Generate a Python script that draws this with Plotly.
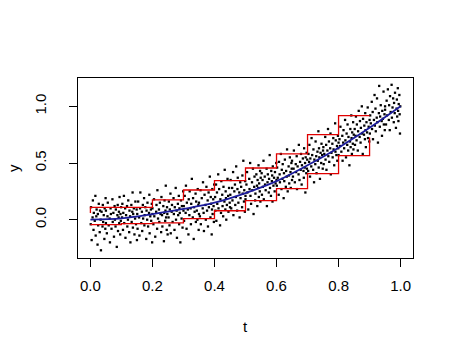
import plotly.graph_objects as go

scatter_t = [
    0.001, 0.002, 0.004, 0.007, 0.008, 0.010, 0.011, 0.014, 0.016, 0.017,
    0.019, 0.020, 0.023, 0.024, 0.025, 0.027, 0.030, 0.031, 0.033, 0.034,
    0.036, 0.039, 0.040, 0.041, 0.043, 0.045, 0.046, 0.048, 0.049, 0.050,
    0.050, 0.053, 0.055, 0.056, 0.059, 0.062, 0.063, 0.065, 0.066, 0.068,
    0.071, 0.072, 0.074, 0.076, 0.078, 0.079, 0.081, 0.082, 0.085, 0.087,
    0.088, 0.089, 0.091, 0.092, 0.093, 0.094, 0.096, 0.097, 0.098, 0.099,
    0.102, 0.103, 0.105, 0.106, 0.108, 0.109, 0.112, 0.113, 0.115, 0.118,
    0.119, 0.121, 0.122, 0.125, 0.126, 0.128, 0.129, 0.132, 0.133, 0.135,
    0.136, 0.137, 0.138, 0.140, 0.142, 0.144, 0.145, 0.147, 0.149, 0.150,
    0.151, 0.152, 0.154, 0.157, 0.158, 0.160, 0.161, 0.164, 0.166, 0.167,
    0.169, 0.170, 0.173, 0.174, 0.175, 0.177, 0.180, 0.181, 0.183, 0.184,
    0.186, 0.189, 0.190, 0.191, 0.193, 0.195, 0.196, 0.198, 0.199, 0.200,
    0.200, 0.203, 0.205, 0.206, 0.209, 0.212, 0.213, 0.215, 0.216, 0.218,
    0.221, 0.222, 0.224, 0.226, 0.228, 0.229, 0.231, 0.232, 0.235, 0.237,
    0.238, 0.239, 0.241, 0.242, 0.243, 0.244, 0.246, 0.247, 0.248, 0.249,
    0.252, 0.253, 0.255, 0.256, 0.258, 0.259, 0.262, 0.263, 0.265, 0.268,
    0.269, 0.271, 0.272, 0.275, 0.276, 0.278, 0.279, 0.282, 0.283, 0.285,
    0.286, 0.287, 0.288, 0.290, 0.292, 0.294, 0.295, 0.297, 0.299, 0.300,
    0.301, 0.302, 0.304, 0.307, 0.308, 0.310, 0.311, 0.314, 0.316, 0.317,
    0.319, 0.320, 0.323, 0.324, 0.325, 0.327, 0.330, 0.331, 0.333, 0.334,
    0.336, 0.339, 0.340, 0.341, 0.343, 0.345, 0.346, 0.348, 0.349, 0.350,
    0.350, 0.353, 0.355, 0.356, 0.359, 0.362, 0.363, 0.365, 0.366, 0.368,
    0.371, 0.372, 0.374, 0.376, 0.378, 0.379, 0.381, 0.382, 0.385, 0.387,
    0.388, 0.389, 0.391, 0.392, 0.393, 0.394, 0.396, 0.397, 0.398, 0.399,
    0.402, 0.403, 0.405, 0.406, 0.408, 0.409, 0.412, 0.413, 0.415, 0.418,
    0.419, 0.421, 0.422, 0.425, 0.426, 0.428, 0.429, 0.432, 0.433, 0.435,
    0.436, 0.437, 0.438, 0.440, 0.442, 0.444, 0.445, 0.447, 0.449, 0.450,
    0.451, 0.452, 0.454, 0.457, 0.458, 0.460, 0.461, 0.464, 0.466, 0.467,
    0.469, 0.470, 0.473, 0.474, 0.475, 0.477, 0.480, 0.481, 0.483, 0.484,
    0.486, 0.489, 0.490, 0.491, 0.493, 0.495, 0.496, 0.498, 0.499, 0.500,
    0.500, 0.503, 0.505, 0.506, 0.509, 0.512, 0.513, 0.515, 0.516, 0.518,
    0.521, 0.522, 0.524, 0.526, 0.528, 0.529, 0.531, 0.532, 0.535, 0.537,
    0.538, 0.539, 0.541, 0.542, 0.543, 0.544, 0.546, 0.547, 0.548, 0.549,
    0.552, 0.553, 0.555, 0.556, 0.558, 0.559, 0.562, 0.563, 0.565, 0.568,
    0.569, 0.571, 0.572, 0.575, 0.576, 0.578, 0.579, 0.582, 0.583, 0.585,
    0.586, 0.587, 0.588, 0.590, 0.592, 0.594, 0.595, 0.597, 0.599, 0.600,
    0.601, 0.602, 0.604, 0.607, 0.608, 0.610, 0.611, 0.614, 0.616, 0.617,
    0.619, 0.620, 0.623, 0.624, 0.625, 0.627, 0.630, 0.631, 0.633, 0.634,
    0.636, 0.639, 0.640, 0.641, 0.643, 0.645, 0.646, 0.648, 0.649, 0.650,
    0.650, 0.653, 0.655, 0.656, 0.659, 0.662, 0.663, 0.665, 0.666, 0.668,
    0.671, 0.672, 0.674, 0.676, 0.678, 0.679, 0.681, 0.682, 0.685, 0.687,
    0.688, 0.689, 0.691, 0.692, 0.693, 0.694, 0.696, 0.697, 0.698, 0.699,
    0.702, 0.703, 0.705, 0.706, 0.708, 0.709, 0.712, 0.713, 0.715, 0.718,
    0.719, 0.721, 0.722, 0.725, 0.726, 0.728, 0.729, 0.732, 0.733, 0.735,
    0.736, 0.737, 0.738, 0.740, 0.742, 0.744, 0.745, 0.747, 0.749, 0.750,
    0.751, 0.752, 0.754, 0.757, 0.758, 0.760, 0.761, 0.764, 0.766, 0.767,
    0.769, 0.770, 0.773, 0.774, 0.775, 0.777, 0.780, 0.781, 0.783, 0.784,
    0.786, 0.789, 0.790, 0.791, 0.793, 0.795, 0.796, 0.798, 0.799, 0.800,
    0.800, 0.803, 0.805, 0.806, 0.809, 0.812, 0.813, 0.815, 0.816, 0.818,
    0.821, 0.822, 0.824, 0.826, 0.828, 0.829, 0.831, 0.832, 0.835, 0.837,
    0.838, 0.839, 0.841, 0.842, 0.843, 0.844, 0.846, 0.847, 0.848, 0.849,
    0.852, 0.853, 0.855, 0.856, 0.858, 0.859, 0.862, 0.863, 0.865, 0.868,
    0.869, 0.871, 0.872, 0.875, 0.876, 0.878, 0.879, 0.882, 0.883, 0.885,
    0.886, 0.887, 0.888, 0.890, 0.892, 0.894, 0.895, 0.897, 0.899, 0.900,
    0.901, 0.902, 0.904, 0.907, 0.908, 0.910, 0.911, 0.914, 0.916, 0.917,
    0.919, 0.920, 0.923, 0.924, 0.925, 0.927, 0.930, 0.931, 0.933, 0.934,
    0.936, 0.939, 0.940, 0.941, 0.943, 0.945, 0.946, 0.948, 0.949, 0.950,
    0.950, 0.953, 0.955, 0.956, 0.959, 0.962, 0.963, 0.965, 0.966, 0.968,
    0.971, 0.972, 0.974, 0.976, 0.978, 0.979, 0.981, 0.982, 0.985, 0.987,
    0.988, 0.989, 0.991, 0.992, 0.993, 0.994, 0.996, 0.997, 0.998, 0.999,
]
scatter_y = [
    -0.04, 0.11, -0.18, 0.02, 0.17, -0.09, 0.06, -0.01, 0.21, -0.14,
    0.03, 0.09, -0.22, 0.05, -0.05, 0.14, -0.11, 0.08, 0.00, -0.27,
    0.07, -0.06, 0.13, -0.02, 0.04, -0.17, 0.10, -0.08, 0.19, -0.03,
    0.08, -0.12, 0.03, 0.15, -0.05, 0.01, -0.20, 0.10, 0.05, -0.08,
    0.18, -0.02, 0.06, -0.15, 0.12, 0.00, -0.06, 0.09, -0.24, 0.04,
    0.13, -0.10, 0.02, 0.07, -0.03, 0.20, -0.13, 0.05, -0.01, 0.11,
    0.02, 0.14, -0.09, 0.06, 0.21, -0.03, 0.10, -0.16, 0.04, 0.12,
    -0.06, 0.00, 0.17, -0.11, 0.08, 0.03, -0.20, 0.13, -0.02, 0.07,
    0.24, -0.07, 0.05, 0.10, -0.13, 0.01, 0.16, -0.04, 0.09, -0.18,
    0.05, -0.08, 0.16, 0.02, -0.14, 0.10, 0.24, -0.03, 0.07, -0.10,
    0.13, 0.01, 0.19, -0.05, 0.04, 0.11, -0.17, 0.08, 0.00, 0.15,
    -0.06, 0.06, 0.22, -0.12, 0.03, 0.09, -0.01, 0.14, -0.20, 0.05,
    0.10, -0.04, 0.18, 0.03, -0.15, 0.07, 0.13, -0.08, 0.26, 0.01,
    0.09, -0.02, 0.15, 0.05, -0.11, 0.20, 0.04, -0.06, 0.12, -0.19,
    0.06, 0.17, -0.01, 0.08, 0.30, 0.02, -0.09, 0.11, 0.05, -0.13,
    0.02, 0.16, -0.05, 0.09, 0.23, -0.12, 0.07, 0.13, -0.02, 0.19,
    0.05, -0.09, 0.11, 0.28, 0.00, 0.08, -0.16, 0.14, 0.04, 0.21,
    -0.04, 0.10, 0.06, -0.20, 0.17, 0.01, 0.12, -0.07, 0.25, 0.08,
    0.12, -0.01, 0.21, 0.06, 0.30, -0.08, 0.15, 0.09, -0.13, 0.18,
    0.04, 0.25, 0.10, -0.04, 0.14, 0.36, 0.02, 0.19, -0.17, 0.11,
    0.07, 0.23, -0.02, 0.16, 0.08, 0.00, 0.27, 0.13, -0.09, 0.05,
    0.15, 0.03, 0.26, -0.04, 0.19, 0.10, 0.33, 0.06, -0.10, 0.22,
    0.13, 0.00, 0.29, 0.08, 0.17, -0.06, 0.24, 0.11, 0.38, 0.02,
    0.20, 0.14, -0.13, 0.09, 0.27, 0.05, 0.18, 0.12, -0.02, 0.31,
    0.20, 0.08, 0.31, -0.01, 0.24, 0.14, 0.40, 0.10, 0.27, -0.05,
    0.18, 0.06, 0.34, 0.22, 0.12, 0.03, 0.29, 0.16, 0.44, 0.09,
    0.25, 0.19, 0.00, 0.13, 0.36, 0.21, 0.07, 0.28, 0.15, 0.11,
    0.22, 0.35, 0.10, 0.28, 0.17, 0.42, 0.04, 0.25, 0.31, 0.13,
    0.20, 0.47, 0.08, 0.27, 0.37, 0.15, 0.24, 0.02, 0.33, 0.19,
    0.29, 0.11, 0.39, 0.23, 0.52, 0.16, 0.26, 0.07, 0.34, 0.21,
    0.18, 0.31, 0.42, 0.24, 0.09, 0.36, 0.27, 0.50, 0.21, 0.14,
    0.33, 0.26, 0.45, 0.05, 0.29, 0.38, 0.17, 0.23, 0.40, 0.30,
    0.12, 0.35, 0.28, 0.48, 0.20, 0.32, 0.25, 0.43, 0.16, 0.37,
    0.41, 0.22, 0.35, 0.29, 0.52, 0.18, 0.38, 0.31, 0.26, 0.45,
    0.12, 0.33, 0.40, 0.24, 0.36, 0.57, 0.28, 0.21, 0.43, 0.34,
    0.39, 0.16, 0.47, 0.30, 0.37, 0.25, 0.42, 0.32, 0.50, 0.35,
    0.30, 0.46, 0.37, 0.22, 0.51, 0.40, 0.33, 0.58, 0.27, 0.44,
    0.36, 0.49, 0.19, 0.41, 0.34, 0.53, 0.29, 0.43, 0.38, 0.62,
    0.25, 0.47, 0.39, 0.32, 0.55, 0.42, 0.28, 0.50, 0.45, 0.35,
    0.52, 0.38, 0.45, 0.61, 0.33, 0.49, 0.42, 0.56, 0.27, 0.47,
    0.40, 0.66, 0.35, 0.51, 0.44, 0.58, 0.31, 0.48, 0.54, 0.43,
    0.37, 0.63, 0.46, 0.50, 0.24, 0.55, 0.41, 0.59, 0.45, 0.53,
    0.43, 0.58, 0.51, 0.66, 0.38, 0.54, 0.47, 0.72, 0.57, 0.44,
    0.62, 0.33, 0.53, 0.49, 0.69, 0.56, 0.41, 0.60, 0.52, 0.78,
    0.46, 0.63, 0.55, 0.36, 0.59, 0.50, 0.67, 0.57, 0.45, 0.61,
    0.64, 0.49, 0.58, 0.73, 0.53, 0.66, 0.44, 0.61, 0.80, 0.56,
    0.69, 0.51, 0.63, 0.76, 0.40, 0.59, 0.67, 0.55, 0.72, 0.62,
    0.48, 0.85, 0.60, 0.70, 0.57, 0.65, 0.52, 0.74, 0.63, 0.68,
    0.57, 0.71, 0.65, 0.82, 0.60, 0.74, 0.52, 0.68, 0.79, 0.63,
    0.88, 0.70, 0.55, 0.76, 0.66, 0.84, 0.61, 0.73, 0.48, 0.69,
    0.80, 0.64, 0.92, 0.72, 0.58, 0.77, 0.67, 0.86, 0.62, 0.75,
    0.80, 0.66, 0.74, 0.91, 0.70, 0.84, 0.61, 0.78, 0.96, 0.73,
    0.87, 0.68, 0.81, 1.00, 0.76, 0.58, 0.89, 0.75, 0.83, 0.71,
    0.94, 0.79, 0.64, 0.86, 0.77, 0.99, 0.72, 0.82, 0.69, 0.88,
    0.76, 0.92, 0.85, 1.04, 0.80, 0.95, 0.71, 0.88, 1.10, 0.83,
    0.98, 0.78, 0.90, 1.07, 0.86, 0.68, 0.94, 1.18, 0.82, 0.91,
    1.01, 0.87, 0.74, 0.96, 0.89, 1.13, 0.84, 0.93, 0.79, 1.00,
    0.97, 0.84, 1.05, 0.92, 1.15, 0.88, 1.01, 0.79, 1.09, 0.95,
    1.19, 0.90, 0.99, 1.07, 0.86, 1.03, 0.94, 1.12, 0.81, 0.98,
    1.06, 0.91, 1.16, 0.96, 0.87, 1.02, 1.10, 0.93, 0.76, 1.00,
]

# smooth fitted curve (blue)
fit_t = [0.0, 0.1, 0.2, 0.3, 0.4, 0.5, 0.6, 0.7, 0.8, 0.9, 1.0]
fit_y = [0.0, 0.012, 0.05, 0.095, 0.15, 0.235, 0.34, 0.48, 0.635, 0.81, 1.0]

# staircase band (red): upper drawn vertical-then-horizontal, lower horizontal-then-vertical
step_t = [0.0, 0.1, 0.2, 0.3, 0.4, 0.5, 0.6, 0.7, 0.8, 0.9]
upper = [0.06, 0.109, 0.108, 0.174, 0.262, 0.344, 0.456, 0.58, 0.75, 0.918]
lower = [-0.044, -0.035, -0.029, 0.009, 0.079, 0.168, 0.274, 0.406, 0.565, 0.725]

x_ticks = [0.0, 0.2, 0.4, 0.6, 0.8, 1.0]
y_ticks = [0.0, 0.5, 1.0]

n = min(len(scatter_t), len(scatter_y))

fig = go.Figure()
fig.add_trace(go.Scatter(
    x=scatter_t[:n], y=scatter_y[:n], mode='markers',
    marker=dict(symbol='square', size=2.3, color='black', line=dict(width=0)),
))
fig.add_trace(go.Scatter(
    x=step_t, y=upper, mode='lines', line=dict(color='#e00000', width=1.3, shape='vh'),
))
fig.add_trace(go.Scatter(
    x=step_t, y=lower, mode='lines', line=dict(color='#e00000', width=1.3, shape='hv'),
))
fig.add_trace(go.Scatter(
    x=fit_t, y=fit_y, mode='lines', line=dict(color='#1c1c9c', width=1.8, shape='spline'),
))

axis_style = dict(
    showgrid=False, zeroline=False, showline=True, linecolor='black', linewidth=1,
    mirror=True, ticks='outside', ticklen=8, tickwidth=1, tickcolor='black',
    automargin=False,
)
fig.update_xaxes(range=[-0.04, 1.04], tickvals=x_ticks,
                 ticktext=['%.1f' % v for v in x_ticks], ticklabelstandoff=6, **axis_style)
fig.update_yaxes(range=[-0.338, 1.25], tickvals=y_ticks,
                 ticktext=['%.1f' % v for v in y_ticks], tickangle=-90,
                 ticklabelstandoff=17, **axis_style)

fig.add_annotation(text='t', xref='paper', yref='paper', x=0.5, y=-0.38,
                   showarrow=False, xanchor='center', yanchor='middle')
fig.add_annotation(text='y', xref='paper', yref='paper', x=-0.194, y=0.5,
                   showarrow=False, xanchor='center', yanchor='middle', textangle=-90)

fig.update_layout(
    width=454, height=356,
    margin=dict(l=78, r=41, t=78, b=98),
    plot_bgcolor='white', paper_bgcolor='white',
    showlegend=False,
    font=dict(family='Liberation Sans, Arial, sans-serif', size=15, color='black'),
)

# drop the browser's default 8px body margin so the figure fills the window
fig.write_html("out.html", config={'displayModeBar': False},
               post_script="document.body.style.margin='0px';")
